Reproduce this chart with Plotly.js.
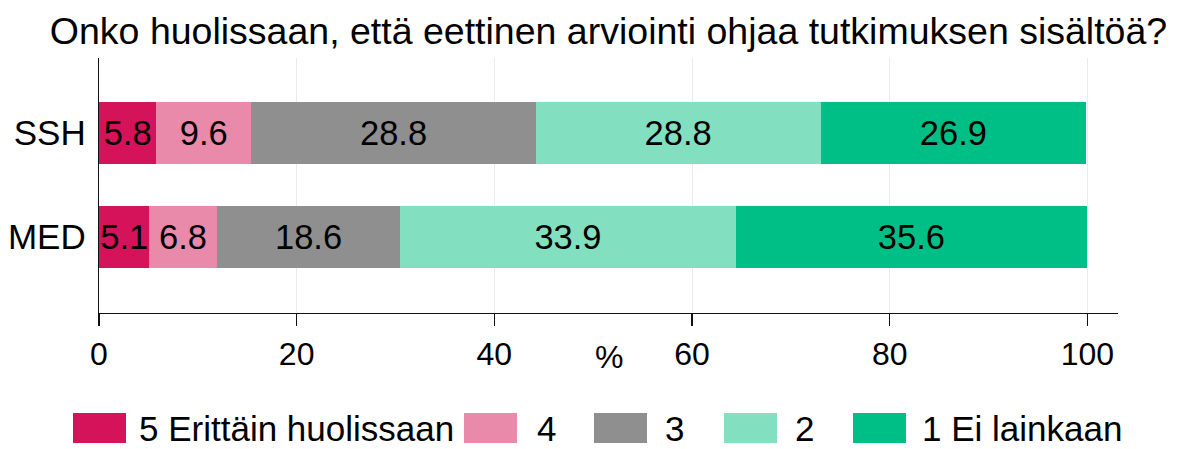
<!DOCTYPE html>
<html>
<head>
<meta charset="utf-8">
<script src="https://cdn.plot.ly/plotly-3.0.1.min.js"></script>
<style>html,body{margin:0;padding:0;background:#fff;}#chart{width:1189px;height:449px;}</style>
</head>
<body>
<div id="chart"></div>
<script>
// ---- data ----
const categories = ['SSH', 'MED'];
const seriesNames = ['5 Erittäin huolissaan', '4', '3', '2', '1 Ei lainkaan'];
const v5 = [5.8, 5.1];
const v4 = [9.6, 6.8];
const v3 = [28.8, 18.6];
const v2 = [28.8, 33.9];
const v1 = [26.9, 35.6];
const xTicks = [0, 20, 40, 60, 80, 100];
const titleText = 'Onko huolissaan, että eettinen arviointi ohjaa tutkimuksen sisältöä?';
const axisTitle = '%';

// ---- style ----
const colors = ['#d5135a', '#e98aab', '#8f8f8f', '#82dfc0', '#00bf86'];
const FONT = '"Liberation Sans", Arial, Helvetica, sans-serif';
const seriesValues = [v5, v4, v3, v2, v1];

const traces = seriesValues.map((vals, i) => ({
  type: 'bar',
  orientation: 'h',
  name: seriesNames[i],
  y: categories,
  x: vals,
  text: vals.map(v => v.toFixed(1)),
  textposition: 'inside',
  insidetextanchor: 'middle',
  textangle: 0,
  constraintext: 'none',
  textfont: {family: FONT, size: 34.5, color: '#000'},
  marker: {color: colors[i], line: {width: 0}},
  width: 0.6,
  hoverinfo: 'x+name',
  showlegend: false
}));

// plot area geometry in pixels (for the manual legend)
const L = 99, R = 1118, T = 58, B = 313;
const W = 1189, H = 449;
const px2x = p => (p - L) / (R - L);
const py2y = p => (B - p) / (B - T);

const swatchLeft = [73, 464, 594, 724, 853];
const swatchW = 53, swatchTop = 413, swatchBot = 443;
const textGap = [11, 18, 16, 16, 14];

const shapes = [];
const annotations = [];
seriesNames.forEach((n, i) => {
  shapes.push({
    type: 'rect', xref: 'paper', yref: 'paper',
    x0: px2x(swatchLeft[i]), x1: px2x(swatchLeft[i] + swatchW),
    y0: py2y(swatchBot), y1: py2y(swatchTop),
    fillcolor: colors[i], line: {width: 0}
  });
  annotations.push({
    xref: 'paper', yref: 'paper',
    x: px2x(swatchLeft[i] + swatchW + textGap[i]), y: py2y(428),
    xanchor: 'left', yanchor: 'middle',
    text: n, showarrow: false,
    font: {family: FONT, size: 35, color: '#000'}
  });
});
annotations.push({
  xref: 'paper', yref: 'paper',
  x: px2x(609), y: py2y(357),
  xanchor: 'center', yanchor: 'middle',
  text: axisTitle, showarrow: false,
  font: {family: FONT, size: 32, color: '#000'}
});

const layout = {
  width: W, height: H,
  margin: {l: L, r: W - R, t: T, b: H - B, pad: 0},
  paper_bgcolor: '#fff', plot_bgcolor: '#fff',
  barmode: 'stack',
  bargap: 0.4,
  showlegend: false,
  font: {family: FONT, color: '#000'},
  title: {
    text: titleText,
    font: {family: FONT, size: 37.5, color: '#000'},
    xref: 'paper', x: 0.5, xanchor: 'center',
    yref: 'container', y: 1 - 31 / H, yanchor: 'middle'
  },
  xaxis: {
    range: [0, 103.1],
    tickvals: xTicks,
    ticktext: xTicks.map(String),
    ticks: 'outside', ticklen: 12, tickwidth: 1.3, tickcolor: '#111',
    showline: true, linecolor: '#111', linewidth: 1.3,
    showgrid: true, gridcolor: '#ebebeb', gridwidth: 1,
    zeroline: false,
    tickfont: {family: FONT, size: 32, color: '#000'},
    fixedrange: true
  },
  yaxis: {
    type: 'category',
    categoryorder: 'array',
    categoryarray: categories.slice().reverse(),
    range: [-0.735, 1.722],
    ticks: '',
    showline: true, linecolor: '#111', linewidth: 1.3,
    showgrid: false, zeroline: false,
    ticklabelstandoff: 5,
    tickfont: {family: FONT, size: 35, color: '#000'},
    fixedrange: true
  },
  shapes: shapes,
  annotations: annotations
};

Plotly.newPlot('chart', traces, layout, {displayModeBar: false, staticPlot: true});
</script>
</body>
</html>
